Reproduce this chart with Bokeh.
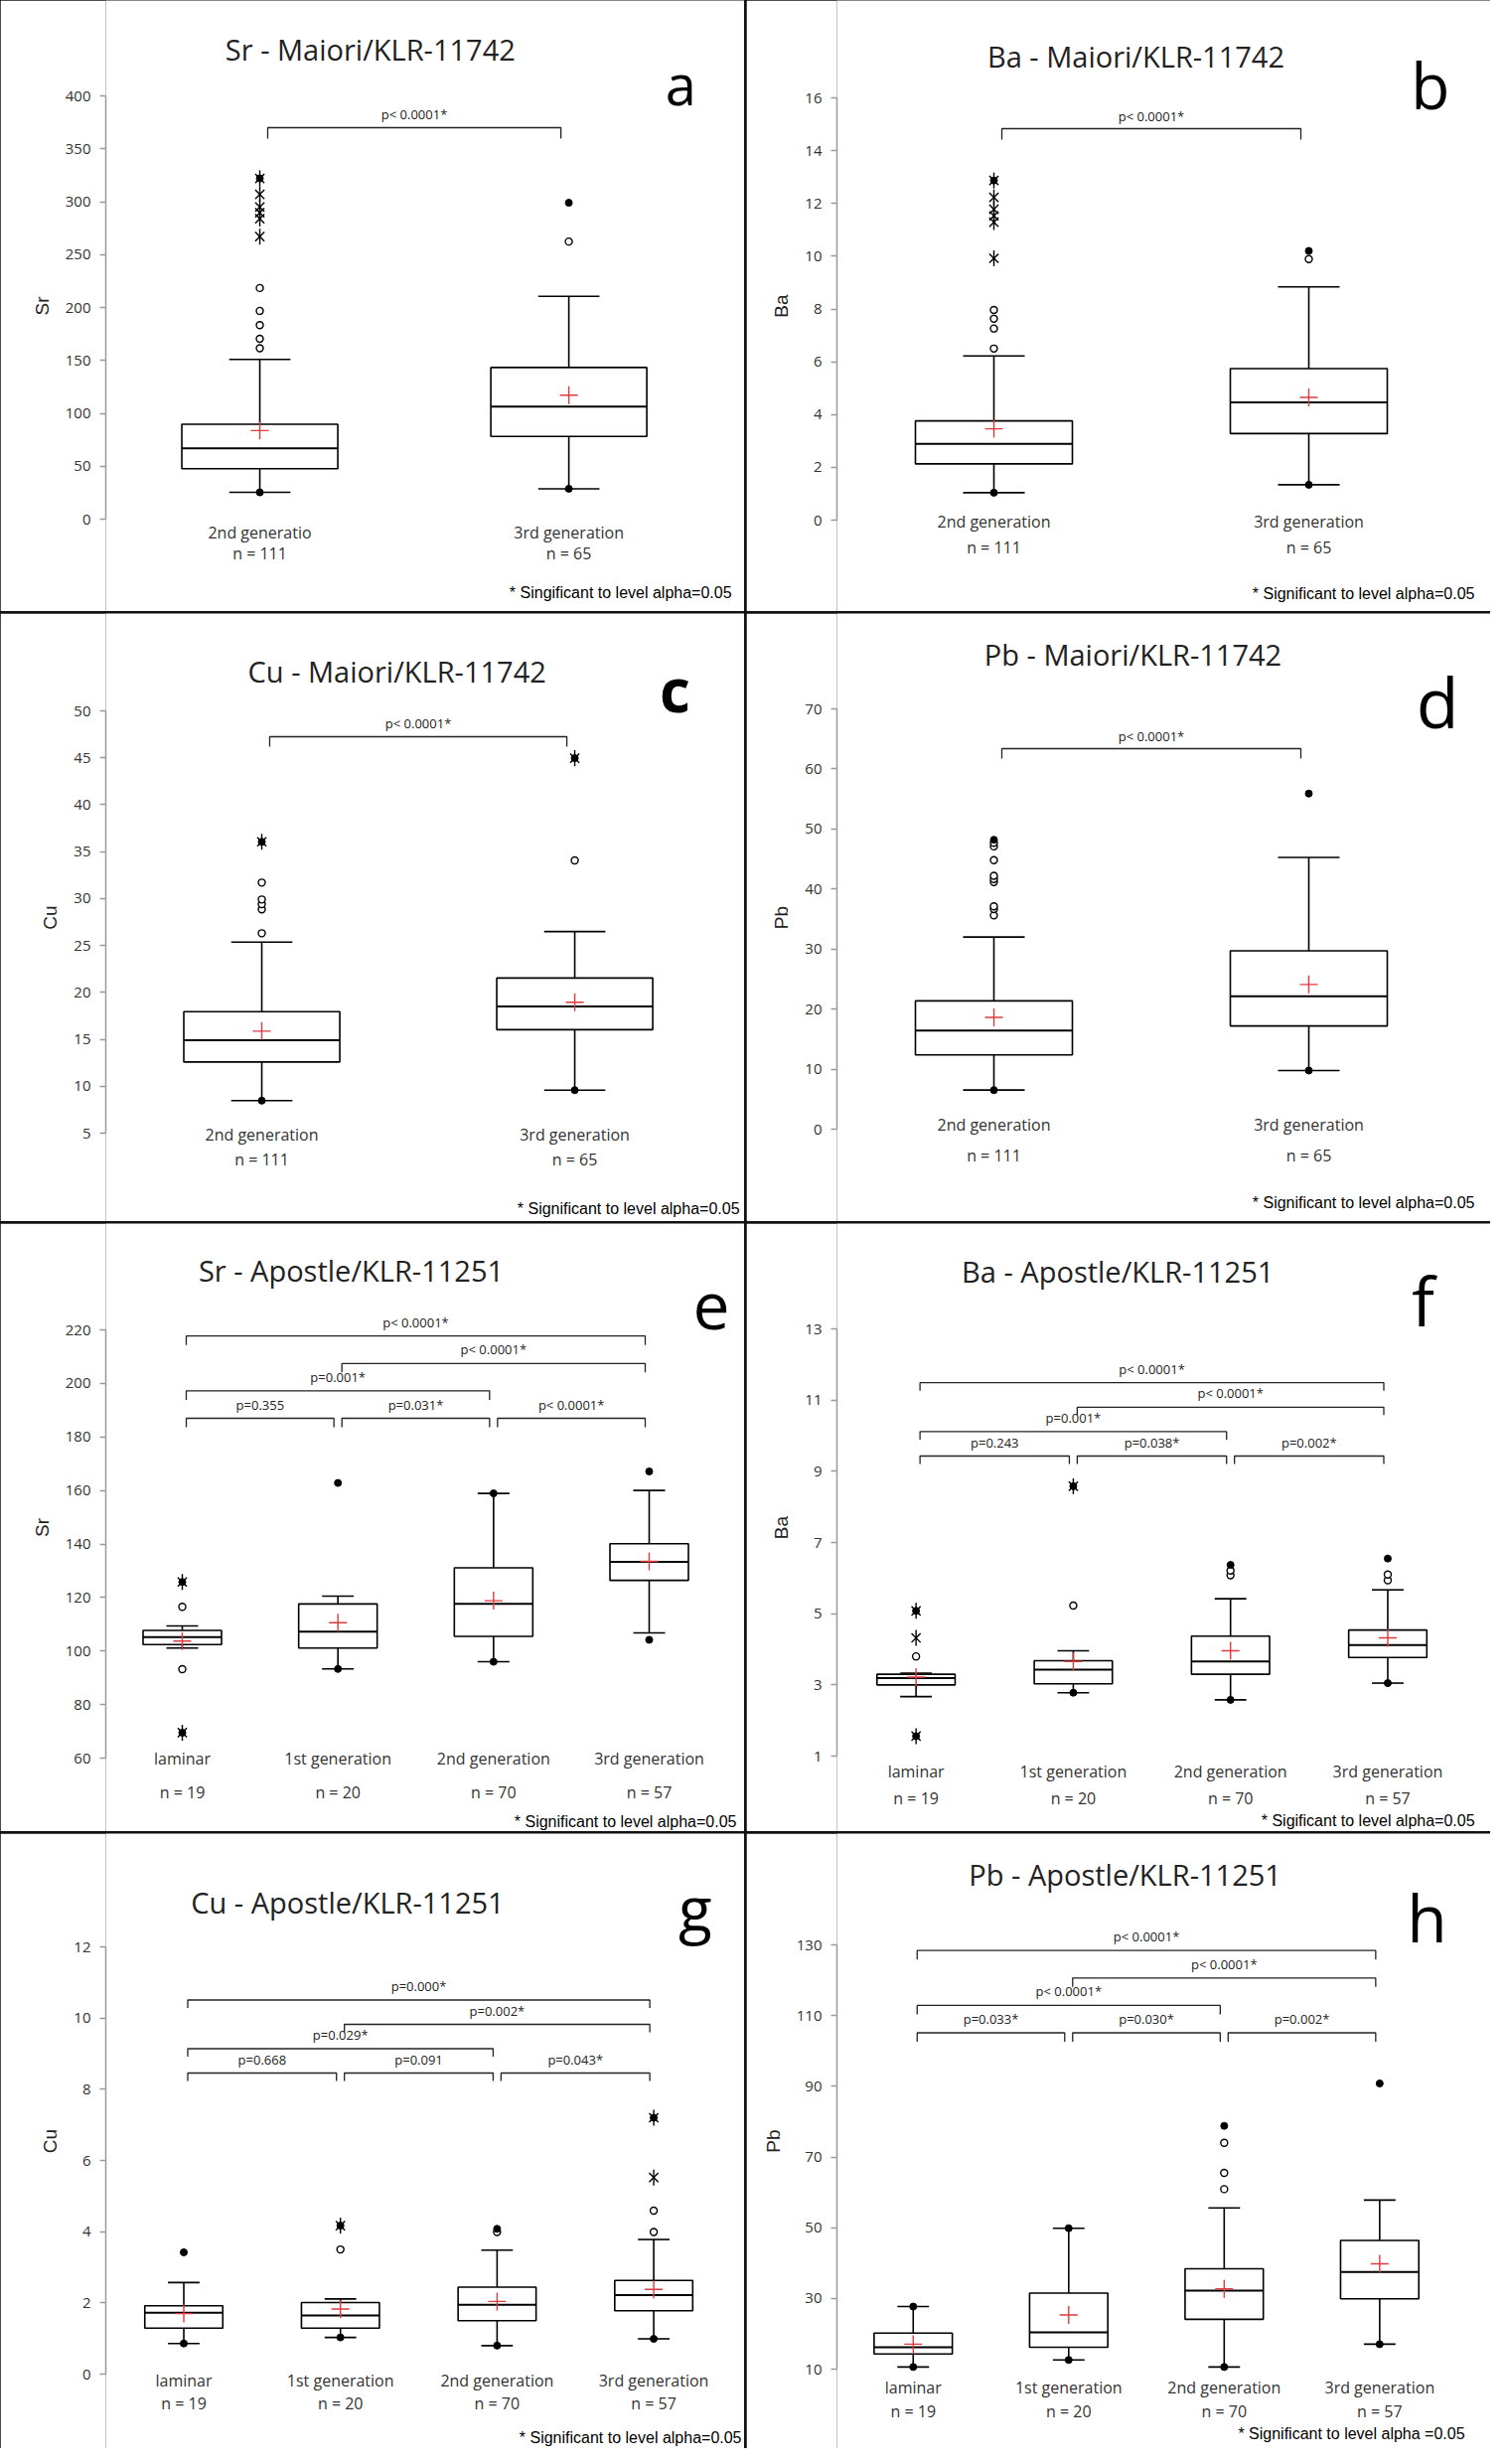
import math
from bokeh.plotting import figure
from bokeh.layouts import gridplot
from bokeh.models import Range1d, FixedTicker, ColumnDataSource
from bokeh.core.properties import value
from bokeh.embed import file_html
from bokeh.resources import INLINE

# ------------------------------------------------------------------ data
CATS2 = ["2nd generation", "3rd generation"]
CATS4 = ["laminar", "1st generation", "2nd generation", "3rd generation"]
N_MAIORI = ["n = 111", "n = 65"]
N_APOSTLE = ["n = 19", "n = 20", "n = 70", "n = 57"]
PAIRS4 = [(0, 1, 0), (1, 2, 0), (2, 3, 0), (0, 2, 1), (1, 3, 2), (0, 3, 3)]
PAIRS2 = [(0, 1, 0)]

# a  Sr - Maiori
A_CATS = ["2nd generatio", "3rd generation"]
A_TICKS = [0, 50, 100, 150, 200, 250, 300, 350, 400]
A_LOW = [25.3, 28.7]
A_Q1 = [47.6, 78.1]
A_MED = [67.0, 106.4]
A_Q3 = [89.7, 143.3]
A_HIGH = [151.0, 210.6]
A_MEAN = [83.7, 117.2]
A_MIN = [25.3, 28.7]
A_MAX = [322.0, 299.0]
A_OUT_CAT = [0, 0, 0, 0, 0, 1]
A_OUT_VAL = [161.5, 170.4, 183.4, 196.8, 218.4, 262.3]
A_EXT_CAT = [0, 0, 0, 0, 0, 0]
A_EXT_VAL = [267.0, 284.0, 289.5, 295.0, 307.0, 322.0]
A_P = ["p< 0.0001*"]

# b  Ba - Maiori
B_TICKS = [0, 2, 4, 6, 8, 10, 12, 14, 16]
B_LOW = [1.04, 1.34]
B_Q1 = [2.13, 3.28]
B_MED = [2.89, 4.46]
B_Q3 = [3.76, 5.74]
B_HIGH = [6.22, 8.84]
B_MEAN = [3.46, 4.65]
B_MIN = [1.04, 1.34]
B_MAX = [12.87, 10.2]
B_OUT_CAT = [0, 0, 0, 0, 1]
B_OUT_VAL = [6.5, 7.26, 7.63, 7.96, 9.89]
B_EXT_CAT = [0, 0, 0, 0, 0, 0]
B_EXT_VAL = [9.92, 11.29, 11.53, 11.78, 12.23, 12.87]
B_P = ["p< 0.0001*"]

# c  Cu - Maiori
C_TICKS = [5, 10, 15, 20, 25, 30, 35, 40, 45, 50]
C_LOW = [8.46, 9.58]
C_Q1 = [12.58, 16.03]
C_MED = [14.91, 18.49]
C_Q3 = [17.95, 21.53]
C_HIGH = [25.36, 26.48]
C_MEAN = [15.87, 18.95]
C_MIN = [8.46, 9.58]
C_MAX = [36.05, 44.96]
C_OUT_CAT = [0, 0, 0, 0, 0, 1]
C_OUT_VAL = [26.3, 28.85, 29.4, 29.9, 31.7, 34.06]
C_EXT_CAT = [0, 1]
C_EXT_VAL = [36.05, 44.96]
C_P = ["p< 0.0001*"]

# d  Pb - Maiori
D_TICKS = [0, 10, 20, 30, 40, 50, 60, 70]
D_LOW = [6.51, 9.77]
D_Q1 = [12.37, 17.19]
D_MED = [16.41, 22.14]
D_Q3 = [21.36, 29.7]
D_HIGH = [32.0, 45.26]
D_MEAN = [18.62, 24.1]
D_MIN = [6.51, 9.77]
D_MAX = [48.2, 55.9]
D_OUT_CAT = [0, 0, 0, 0, 0, 0, 0, 0, 0]
D_OUT_VAL = [35.6, 36.66, 37.1, 41.15, 41.67, 42.2, 44.8, 47.1, 47.7]
D_EXT_CAT = []
D_EXT_VAL = []
D_P = ["p< 0.0001*"]

# e  Sr - Apostle
E_TICKS = [60, 80, 100, 120, 140, 160, 180, 200, 220]
E_LOW = [101.1, 93.3, 96.0, 106.8]
E_Q1 = [102.4, 101.1, 105.5, 126.4]
E_MED = [105.2, 107.2, 117.6, 133.3]
E_Q3 = [107.7, 117.6, 131.1, 140.1]
E_HIGH = [109.4, 120.5, 158.9, 160.0]
E_MEAN = [103.7, 110.6, 118.8, 133.5]
E_MIN = [69.5, 93.3, 96.0, 104.2]
E_MAX = [125.8, 162.8, 158.9, 167.1]
E_OUT_CAT = [0, 0]
E_OUT_VAL = [116.5, 93.2]
E_EXT_CAT = [0, 0]
E_EXT_VAL = [125.8, 69.5]
E_P = ["p=0.355", "p=0.031*", "p< 0.0001*", "p=0.001*", "p< 0.0001*", "p< 0.0001*"]

# f  Ba - Apostle
F_TICKS = [1, 3, 5, 7, 9, 11, 13]
F_LOW = [2.67, 2.78, 2.58, 3.05]
F_Q1 = [3.0, 3.03, 3.30, 3.77]
F_MED = [3.19, 3.43, 3.66, 4.12]
F_Q3 = [3.30, 3.68, 4.37, 4.54]
F_HIGH = [3.33, 3.96, 5.42, 5.67]
F_MEAN = [3.22, 3.66, 3.96, 4.32]
F_MIN = [1.56, 2.78, 2.58, 3.05]
F_MAX = [5.08, 8.58, 6.37, 6.55]
F_OUT_CAT = [0, 1, 2, 2, 3, 3]
F_OUT_VAL = [3.80, 5.23, 6.08, 6.21, 5.94, 6.10]
F_EXT_CAT = [0, 0, 0, 1]
F_EXT_VAL = [4.32, 5.08, 1.56, 8.58]
F_P = ["p=0.243", "p=0.038*", "p=0.002*", "p=0.001*", "p< 0.0001*", "p< 0.0001*"]

# g  Cu - Apostle
G_TICKS = [0, 2, 4, 6, 8, 10, 12]
G_LOW = [0.86, 1.03, 0.80, 0.99]
G_Q1 = [1.29, 1.29, 1.50, 1.78]
G_MED = [1.72, 1.65, 1.95, 2.22]
G_Q3 = [1.92, 2.01, 2.44, 2.63]
G_HIGH = [2.57, 2.11, 3.48, 3.78]
G_MEAN = [1.70, 1.83, 2.04, 2.38]
G_MIN = [0.86, 1.03, 0.80, 0.99]
G_MAX = [3.42, 4.17, 4.08, 7.20]
G_OUT_CAT = [1, 2, 3, 3]
G_OUT_VAL = [3.50, 3.99, 3.99, 4.59]
G_EXT_CAT = [1, 3, 3]
G_EXT_VAL = [4.17, 5.52, 7.20]
G_P = ["p=0.668", "p=0.091", "p=0.043*", "p=0.029*", "p=0.002*", "p=0.000*"]

# h  Pb - Apostle
H_TICKS = [10, 30, 50, 70, 90, 110, 130]
H_LOW = [10.6, 12.6, 10.6, 17.05]
H_Q1 = [14.3, 16.2, 24.1, 29.9]
H_MED = [16.2, 20.4, 32.2, 37.5]
H_Q3 = [20.2, 31.5, 38.4, 46.4]
H_HIGH = [27.7, 49.85, 55.6, 57.8]
H_MEAN = [17.05, 25.3, 32.7, 39.8]
H_MIN = [10.6, 12.6, 10.6, 17.05]
H_MAX = [27.7, 49.85, 78.8, 90.8]
H_OUT_CAT = [2, 2, 2]
H_OUT_VAL = [60.9, 65.5, 74.0]
H_EXT_CAT = []
H_EXT_VAL = []
H_P = ["p=0.033*", "p=0.030*", "p=0.002*", "p< 0.0001*", "p< 0.0001*", "p< 0.0001*"]

FOOT_A = "* Singificant to level alpha=0.05"
FOOT_STD = "* Significant to level alpha=0.05"
FOOT_F = "* Sigificant to level alpha=0.05"
FOOT_H = "* Significant to level alpha =0.05"

# ------------------------------------------------------------------ styling / layout
W = 749
FONT = "Open Sans"
RED = "#e0393e"


def make_panel(D, G):
    c = G["centers"]
    n = len(c)
    unit = (c[-1] - c[0]) / (n - 1)
    L = G["L"]
    H = G["H"]

    def px2x(px):
        return (px - c[0]) / unit

    vmin, vmax = D["ticks"][0], D["ticks"][-1]
    k = (vmax - vmin) / (G["ymin_px"] - G["ymax_px"])

    def py2y(py):
        return vmin + (G["ymin_px"] - py) * k

    p = figure(width=W, height=H,
               x_range=Range1d(px2x(L), px2x(W)),
               y_range=Range1d(py2y(H), py2y(0)),
               x_axis_location=None, output_backend="svg", toolbar_location=None,
               min_border_left=L, min_border_right=0, min_border_top=0, min_border_bottom=0)
    p.outline_line_color = None
    p.grid.visible = False

    ax = p.yaxis[0]
    ax.bounds = (vmin, vmax)
    ax.ticker = FixedTicker(ticks=D["ticks"])
    ax.minor_tick_line_color = None
    ax.major_tick_out = 6
    ax.major_tick_in = 0
    ax.axis_line_color = "#9a9a9a"
    ax.major_tick_line_color = "#9a9a9a"
    ax.axis_line_width = 1.5
    ax.major_tick_line_width = 1.5
    ax.major_label_text_font = FONT
    ax.major_label_text_font_size = "15px"
    ax.major_label_text_color = "#333333"
    ax.major_label_standoff = 9
    ax.axis_label = D["ylabel"]
    ax.axis_label_text_font = "Liberation Sans"
    ax.axis_label_text_font_style = "normal"
    ax.axis_label_text_font_size = "19px"
    ax.axis_label_text_color = "#222222"
    ax.axis_label_standoff = 10

    xs = list(range(n))
    bh = G["box_half"] / unit
    ch = G["cap_half"] / unit
    src = ColumnDataSource(dict(
        x=xs, l=[x - bh for x in xs], r=[x + bh for x in xs],
        cl=[x - ch for x in xs], cr=[x + ch for x in xs],
        low=D["low"], q1=D["q1"], med=D["med"], q3=D["q3"], high=D["high"], mean=D["mean"]))

    lw = 1.6
    p.segment(x0="x", y0="q3", x1="x", y1="high", source=src, line_color="black", line_width=lw)
    p.segment(x0="x", y0="q1", x1="x", y1="low", source=src, line_color="black", line_width=lw)
    p.segment(x0="cl", y0="high", x1="cr", y1="high", source=src, line_color="black", line_width=lw)
    p.segment(x0="cl", y0="low", x1="cr", y1="low", source=src, line_color="black", line_width=lw)
    p.quad(left="l", right="r", bottom="q1", top="q3", source=src,
           fill_color=None, line_color="black", line_width=lw)
    p.segment(x0="l", y0="med", x1="r", y1="med", source=src, line_color="black", line_width=2)
    p.scatter(x="x", y="mean", source=src, marker="cross", size=18, line_color=RED, line_width=1.4)

    if D["out_cat"]:
        p.scatter(x=D["out_cat"], y=D["out_val"], marker="circle", size=7,
                  fill_color="white", line_color="black", line_width=1.4)
    if D["ext_cat"]:
        # six-armed asterisk: an "x" plus a vertical bar
        p.scatter(x=D["ext_cat"], y=D["ext_val"], marker="x", size=13,
                  line_color="black", line_width=1.4)
        p.scatter(x=D["ext_cat"], y=D["ext_val"], marker="dash", size=16, angle=math.pi / 2,
                  line_color="black", line_width=1.4)
    p.scatter(x=xs + xs, y=D["min"] + D["max"], marker="circle", size=7,
              fill_color="black", line_color="black")

    # significance brackets
    bxs, bys, tx, ty = [], [], [], []
    ins = G["inset"] / unit
    for (i, j, lev) in D["pairs"]:
        yl = G["br_base"] - lev * G["br_step"]
        x0, x1 = i + ins, j - ins
        bxs.append([x0, x0, x1, x1])
        bys.append([py2y(yl + G["tick"]), py2y(yl), py2y(yl), py2y(yl + G["tick"])])
        tx.append((x0 + x1) / 2)
        ty.append(py2y(yl - G["toff"]))
    p.multi_line(xs=bxs, ys=bys, line_color="#222222", line_width=1.3)
    p.text(x=tx, y=ty, text=D["pvals"], text_align="center", text_baseline="middle",
           text_font=value(FONT), text_font_size="13px", text_color="#222222")

    # category and n labels
    p.text(x=xs, y=[py2y(G["cat_y"])] * n, text=D["cats"], text_align="center",
           text_baseline="middle", text_font=value(FONT), text_font_size="16px", text_color="#333333")
    p.text(x=xs, y=[py2y(G["n_y"])] * n, text=D["ns"], text_align="center",
           text_baseline="middle", text_font=value(FONT), text_font_size="16px", text_color="#333333")

    # title, panel letter, footnote
    p.text(x=[px2x(G["title"][0])], y=[py2y(G["title"][1])], text=[D["title"]],
           text_align="center", text_baseline="middle", text_font=value(FONT),
           text_font_size="29px", text_color="#222222")
    p.text(x=[px2x(G["letter"][0])], y=[py2y(G["letter"][1])], text=[D["letter"]],
           text_align="right", text_baseline="alphabetic", text_font=value(FONT),
           text_font_size=f"{G['letter'][2]}px", text_font_style=G.get("letter_style", "normal"),
           text_color="black")
    p.text(x=[px2x(G["foot"][0])], y=[py2y(G["foot"][1])], text=[D["foot"]],
           text_align="right", text_baseline="middle", text_font=value("Liberation Sans"),
           text_font_size="16px", text_color="black")
    return p


def data(title, letter, ylabel, cats, ns, ticks, low, q1, med, q3, high, mean, mn, mx,
         oc, ov, ec, ev, pairs, pvals, foot):
    return dict(title=title, letter=letter, ylabel=ylabel, cats=cats, ns=ns, ticks=ticks,
                low=low, q1=q1, med=med, q3=q3, high=high, mean=mean, min=mn, max=mx,
                out_cat=oc, out_val=ov, ext_cat=ec, ext_val=ev, pairs=pairs, pvals=pvals, foot=foot)


DA = data("Sr - Maiori/KLR-11742", "a", "Sr", A_CATS, N_MAIORI, A_TICKS, A_LOW, A_Q1, A_MED, A_Q3,
          A_HIGH, A_MEAN, A_MIN, A_MAX, A_OUT_CAT, A_OUT_VAL, A_EXT_CAT, A_EXT_VAL, PAIRS2, A_P, FOOT_A)
DB = data("Ba - Maiori/KLR-11742", "b", "Ba", CATS2, N_MAIORI, B_TICKS, B_LOW, B_Q1, B_MED, B_Q3,
          B_HIGH, B_MEAN, B_MIN, B_MAX, B_OUT_CAT, B_OUT_VAL, B_EXT_CAT, B_EXT_VAL, PAIRS2, B_P, FOOT_STD)
DC = data("Cu - Maiori/KLR-11742", "c", "Cu", CATS2, N_MAIORI, C_TICKS, C_LOW, C_Q1, C_MED, C_Q3,
          C_HIGH, C_MEAN, C_MIN, C_MAX, C_OUT_CAT, C_OUT_VAL, C_EXT_CAT, C_EXT_VAL, PAIRS2, C_P, FOOT_STD)
DD = data("Pb - Maiori/KLR-11742", "d", "Pb", CATS2, N_MAIORI, D_TICKS, D_LOW, D_Q1, D_MED, D_Q3,
          D_HIGH, D_MEAN, D_MIN, D_MAX, D_OUT_CAT, D_OUT_VAL, D_EXT_CAT, D_EXT_VAL, PAIRS2, D_P, FOOT_STD)
DE = data("Sr - Apostle/KLR-11251", "e", "Sr", CATS4, N_APOSTLE, E_TICKS, E_LOW, E_Q1, E_MED, E_Q3,
          E_HIGH, E_MEAN, E_MIN, E_MAX, E_OUT_CAT, E_OUT_VAL, E_EXT_CAT, E_EXT_VAL, PAIRS4, E_P, FOOT_STD)
DF = data("Ba - Apostle/KLR-11251", "f", "Ba", CATS4, N_APOSTLE, F_TICKS, F_LOW, F_Q1, F_MED, F_Q3,
          F_HIGH, F_MEAN, F_MIN, F_MAX, F_OUT_CAT, F_OUT_VAL, F_EXT_CAT, F_EXT_VAL, PAIRS4, F_P, FOOT_F)
DG = data("Cu - Apostle/KLR-11251", "g", "Cu", CATS4, N_APOSTLE, G_TICKS, G_LOW, G_Q1, G_MED, G_Q3,
          G_HIGH, G_MEAN, G_MIN, G_MAX, G_OUT_CAT, G_OUT_VAL, G_EXT_CAT, G_EXT_VAL, PAIRS4, G_P, FOOT_STD)
DH = data("Pb - Apostle/KLR-11251", "h", "Pb", CATS4, N_APOSTLE, H_TICKS, H_LOW, H_Q1, H_MED, H_Q3,
          H_HIGH, H_MEAN, H_MIN, H_MAX, H_OUT_CAT, H_OUT_VAL, H_EXT_CAT, H_EXT_VAL, PAIRS4, H_P, FOOT_H)

ROW_H = [615, 612, 612, 619]

GA = dict(L=102, H=ROW_H[0], ymax_px=96, ymin_px=522, centers=[258, 571], box_half=79, cap_half=31,
          title=(370, 49), letter=(700, 83, 56), cat_y=535, n_y=556, foot=(736, 596),
          br_base=128, br_step=0, tick=11, toff=14, inset=8)
GB = dict(L=91, H=ROW_H[0], ymax_px=98, ymin_px=523, centers=[249, 566], box_half=79, cap_half=31,
          title=(392, 56), letter=(708, 85, 64), cat_y=524, n_y=550, foot=(733, 597),
          br_base=129, br_step=0, tick=11, toff=13, inset=8)
GC = dict(L=102, H=ROW_H[1], ymax_px=98, ymin_px=523, centers=[260, 577], box_half=79, cap_half=31,
          title=(397, 58), letter=(694, 76, 60), letter_style="bold", cat_y=524, n_y=549,
          foot=(744, 599), br_base=124, br_step=0, tick=10, toff=14, inset=8)
GD = dict(L=91, H=ROW_H[1], ymax_px=96, ymin_px=519, centers=[249, 566], box_half=79, cap_half=31,
          title=(389, 41), letter=(717, 88, 70), cat_y=514, n_y=545, foot=(733, 593),
          br_base=136, br_step=0, tick=10, toff=13, inset=8)
GE = dict(L=106, H=ROW_H[2], ymax_px=107, ymin_px=538, centers=[183, 340, 497, 653], box_half=39.5,
          cap_half=16, title=(353, 47), letter=(734, 83, 66), cat_y=538, n_y=572, foot=(741, 602),
          br_base=196, br_step=27.6, tick=9, toff=14, inset=4)
GF = dict(L=88, H=ROW_H[2], ymax_px=106, ymin_px=536, centers=[168, 327, 486, 645], box_half=39.5,
          cap_half=16, title=(372, 48), letter=(692, 77, 68), cat_y=551, n_y=578, foot=(733, 601),
          br_base=234, br_step=24.6, tick=8, toff=14, inset=4)
GG = dict(L=102, H=ROW_H[3], ymax_px=114, ymin_px=544, centers=[181, 341, 499, 657], box_half=39.5,
          cap_half=16, title=(347, 69), letter=(716, 74, 62), cat_y=550, n_y=573, foot=(746, 608),
          br_base=241, br_step=24.5, tick=8, toff=14, inset=4)
GH = dict(L=89, H=ROW_H[3], ymax_px=112, ymin_px=539, centers=[166, 323, 480, 637], box_half=39.5,
          cap_half=16, title=(380, 41), letter=(705, 83, 66), cat_y=557, n_y=581, foot=(723, 604),
          br_base=200.5, br_step=27.6, tick=9, toff=14, inset=4)

panels = [make_panel(d, g) for d, g in
          [(DA, GA), (DB, GB), (DC, GC), (DD, GD), (DE, GE), (DF, GF), (DG, GG), (DH, GH)]]

grid = gridplot([[panels[0], panels[1]], [panels[2], panels[3]],
                 [panels[4], panels[5]], [panels[6], panels[7]]], toolbar_location=None)
grid.spacing = 2
grid.styles = {"background-color": "#111111"}

open("out.html", "w").write(file_html(grid, INLINE))
